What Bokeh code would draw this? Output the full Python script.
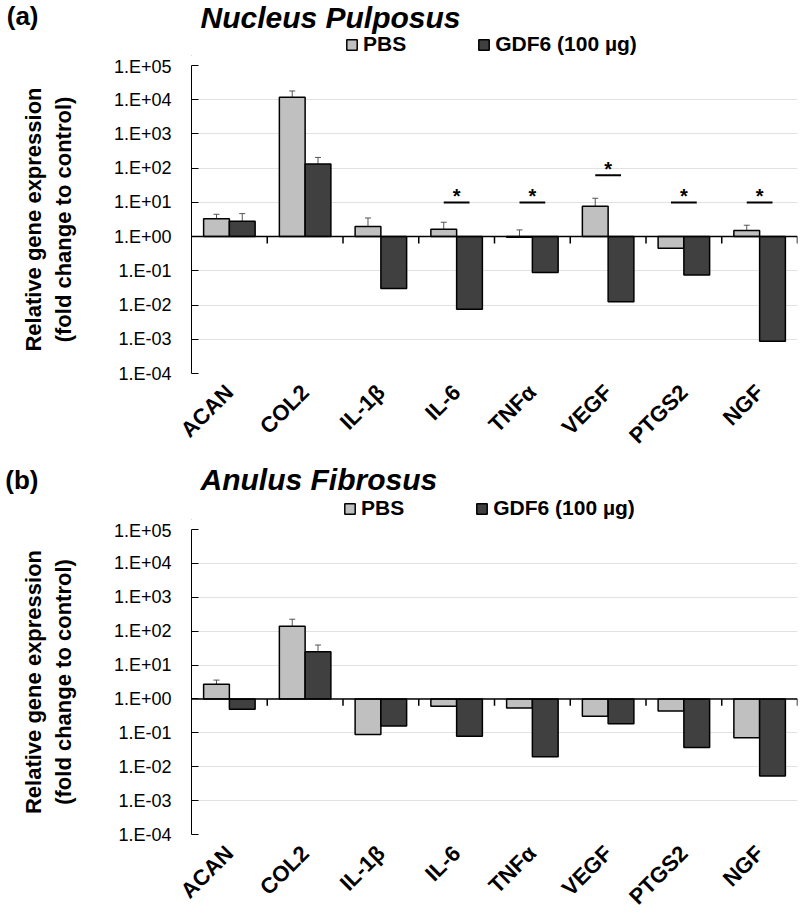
import math
from bokeh.plotting import figure
from bokeh.models import (ColumnDataSource, Range1d, FixedTicker, CustomJSTickFormatter,
                          Whisker, TeeHead, Span, Label, Legend, LegendItem)
from bokeh.transform import dodge
from bokeh.layouts import column
from bokeh.core.properties import value
from bokeh.embed import file_html
from bokeh.resources import INLINE

# ---------------- data ----------------
genes = ["ACAN", "COL2", "IL-1β", "IL-6", "TNFα", "VEGF", "PTGS2", "NGF"]
y_ticks = [1e-4, 1e-3, 1e-2, 1e-1, 1e0, 1e1, 1e2, 1e3, 1e4, 1e5]
series_names = ["PBS", "GDF6 (100 µg)"]

# (a) Nucleus Pulposus
np_pbs = [3.35, 11800, 1.96, 1.64, 0.95, 7.7, 0.457, 1.5]
np_pbs_hi = [4.5, 18000, 3.5, 2.63, 1.57, 13.2, 0.69, 2.15]
np_gdf = [2.8, 132, 0.0305, 0.0076, 0.089, 0.0125, 0.076, 0.00087]
np_gdf_hi = [4.7, 206, 0.055, 0.014, 0.16, 0.0224, 0.137, 0.00136]
np_sig_genes = ["IL-6", "TNFα", "VEGF", "PTGS2", "NGF"]
np_sig_y = [10, 10, 62, 10, 10]

# (b) Anulus Fibrosus
af_pbs = [2.7, 140, 0.089, 0.61, 0.54, 0.31, 0.44, 0.071]
af_pbs_hi = [3.6, 225, 0.164, 0.97, 0.81, 0.41, 0.67, 0.094]
af_gdf = [0.495, 24.6, 0.16, 0.079, 0.0197, 0.184, 0.037, 0.0053]
af_gdf_hi = [0.85, 39, 0.28, 0.14, 0.035, 0.33, 0.066, 0.0093]
af_sig_genes = []
af_sig_y = []

FONT = "Liberation Sans"
PBS_COLOR = "#c0c0c0"
GDF_COLOR = "#404040"
OFF = 0.17
BAR_W = 0.34
TICK_DEC = 0.2  # length of the boundary tick marks below the 1.E+00 line, in decades
LEFT = 191
RIGHT = 2
FRAME_W = 606
FIG_W = LEFT + FRAME_W + RIGHT

fmt = CustomJSTickFormatter(code="""
const e = Math.round(Math.log10(tick));
const s = e >= 0 ? "+" : "-";
const a = Math.abs(e);
return "1.E" + s + (a < 10 ? "0" : "") + a;
""")


def make_header(letter, title, height, letter_y, title_y, leg_x, leg_y):
    h = figure(width=FIG_W, height=height, x_range=Range1d(0, FRAME_W),
               y_range=Range1d(0, height), x_axis_location=None, y_axis_location="left",
               min_border_left=LEFT, min_border_right=RIGHT, min_border_top=0,
               min_border_bottom=0, output_backend="svg", toolbar_location=None)
    h.grid.grid_line_color = None
    h.outline_line_color = None
    # panel letter shown as the single label of the header's left axis
    h.yaxis.ticker = FixedTicker(ticks=[letter_y], minor_ticks=[])
    h.yaxis.formatter = CustomJSTickFormatter(code='return "%s";' % letter)
    h.yaxis.axis_line_color = None
    h.yaxis.major_tick_line_color = None
    h.yaxis.minor_tick_line_color = None
    h.yaxis.major_tick_out = 0
    h.yaxis.major_tick_in = 0
    h.yaxis.major_label_standoff = 153
    h.yaxis.major_label_text_font = FONT
    h.yaxis.major_label_text_font_size = "26px"
    h.yaxis.major_label_text_font_style = "bold"
    h.yaxis.major_label_text_color = "black"
    # legend proxies, placed outside the visible header range, styled like the bars
    proxy = ColumnDataSource(dict(x=[-1000], top=[-1000]))
    r1 = h.vbar(x="x", top="top", width=1, source=proxy, fill_color=PBS_COLOR,
                line_color="black", line_width=1.5)
    r2 = h.vbar(x="x", top="top", width=1, source=proxy, fill_color=GDF_COLOR,
                line_color="black", line_width=1.5)
    legend = Legend(items=[LegendItem(label=series_names[0], renderers=[r1]),
                           LegendItem(label=series_names[1], renderers=[r2])],
                    location=(leg_x, leg_y), orientation="horizontal",
                    spacing=71, glyph_width=13, glyph_height=13, label_standoff=5,
                    label_text_font=FONT, label_text_font_size="21px",
                    label_text_font_style="bold", label_text_color="black",
                    padding=0, margin=0, border_line_color=None, background_fill_alpha=0)
    h.add_layout(legend)
    h.add_layout(Label(x=9, y=title_y, text=title, text_font=FONT, text_font_size="30px",
                       text_font_style="bold italic", text_baseline="middle",
                       text_color="black"))
    return h


def make_panel(pbs, pbs_hi, gdf, gdf_hi, sig_genes, sig_y, top_border, frame_h, bottom_border):
    p = figure(x_range=genes, y_range=Range1d(1e-4, 1e5), y_axis_type="log",
               width=FIG_W, height=top_border + frame_h + bottom_border,
               min_border_left=LEFT, min_border_right=RIGHT,
               min_border_top=top_border, min_border_bottom=bottom_border,
               output_backend="svg", toolbar_location=None)
    p.outline_line_color = None
    p.xgrid.grid_line_color = None
    p.ygrid.grid_line_color = "#e2e2e2"
    p.ygrid.grid_line_width = 1

    src = ColumnDataSource(dict(gene=genes, pbs=pbs, pbs_hi=pbs_hi, gdf=gdf, gdf_hi=gdf_hi))

    p.vbar(x=dodge("gene", -OFF, range=p.x_range), top="pbs", bottom=1, width=BAR_W,
           source=src, fill_color=PBS_COLOR, line_color="black", line_width=1.5)
    p.vbar(x=dodge("gene", OFF, range=p.x_range), top="gdf", bottom=1, width=BAR_W,
           source=src, fill_color=GDF_COLOR, line_color="black", line_width=1.5)

    for col, hi, off in (("pbs", "pbs_hi", -OFF), ("gdf", "gdf_hi", OFF)):
        w = Whisker(source=src, base=dodge("gene", off, range=p.x_range), lower=col, upper=hi,
                    upper_head=TeeHead(size=6, line_color="#555555", line_width=1),
                    lower_head=None, line_color="#555555", line_width=1)
        p.add_layout(w)

    # baseline at 1.E+00 and category boundary ticks
    p.add_layout(Span(location=1, dimension="width", line_color="black", line_width=1.5))
    tsrc = ColumnDataSource(dict(gene=genes, y0=[1] * len(genes),
                                 y1=[10 ** (-TICK_DEC)] * len(genes)))
    p.segment(x0=dodge("gene", 0.5, range=p.x_range), x1=dodge("gene", 0.5, range=p.x_range),
              y0="y0", y1="y1", source=tsrc, line_color="black", line_width=1.5)

    # significance markers
    if sig_genes:
        ssrc = ColumnDataSource(dict(gene=sig_genes, y=sig_y, star=["*"] * len(sig_genes)))
        p.segment(x0=dodge("gene", -OFF, range=p.x_range), x1=dodge("gene", OFF, range=p.x_range),
                  y0="y", y1="y", source=ssrc, line_color="black", line_width=2)
        p.text(x="gene", y="y", text="star", source=ssrc, text_align="center",
               text_baseline="middle", y_offset=-6, text_font=value(FONT),
               text_font_style="bold", text_font_size="20px", text_color="black")

    # axes
    p.yaxis.ticker = FixedTicker(ticks=y_ticks, minor_ticks=[])
    p.yaxis.formatter = fmt
    p.yaxis.major_tick_in = 7
    p.yaxis.major_tick_out = 0
    p.yaxis.minor_tick_line_color = None
    p.yaxis.axis_line_color = "black"
    p.yaxis.major_tick_line_color = "black"
    p.yaxis.major_label_text_font = FONT
    p.yaxis.major_label_text_font_size = "18px"
    p.yaxis.major_label_text_color = "black"
    p.yaxis.major_label_standoff = 20
    p.yaxis.axis_label = "Relative gene expression\n(fold change to control)"
    p.yaxis.axis_label_text_font = FONT
    p.yaxis.axis_label_text_font_size = "22px"
    p.yaxis.axis_label_text_font_style = "bold"
    p.yaxis.axis_label_text_color = "black"
    p.yaxis.axis_label_standoff = 35

    p.xaxis.axis_line_color = None
    p.xaxis.major_tick_line_color = None
    p.xaxis.minor_tick_line_color = None
    p.xaxis.major_tick_out = 0
    p.xaxis.major_tick_in = 0
    p.xaxis.major_label_orientation = math.pi / 4
    p.xaxis.major_label_text_font = FONT
    p.xaxis.major_label_text_font_size = "22px"
    p.xaxis.major_label_text_font_style = "bold"
    p.xaxis.major_label_text_color = "black"
    p.xaxis.major_label_standoff = 15
    return p


ha = make_header("(a)", "Nucleus Pulposus", height=56, letter_y=41, title_y=39, leg_x=154, leg_y=0)
pa = make_panel(np_pbs, np_pbs_hi, np_gdf, np_gdf_hi, np_sig_genes, np_sig_y,
                top_border=9, frame_h=308, bottom_border=87)
hb = make_header("(b)", "Anulus Fibrosus", height=60, letter_y=41, title_y=41, leg_x=152, leg_y=0)
pb = make_panel(af_pbs, af_pbs_hi, af_gdf, af_gdf_hi, af_sig_genes, af_sig_y,
                top_border=9, frame_h=305, bottom_border=88)

layout = column(ha, pa, hb, pb, spacing=0)
open("out.html", "w").write(file_html(layout, INLINE))
